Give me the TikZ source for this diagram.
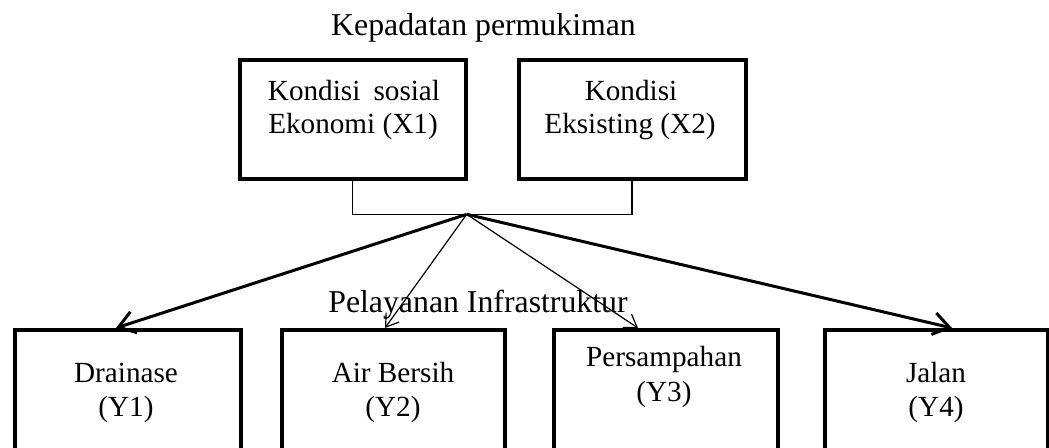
\documentclass[tikz,border=0pt]{standalone}
\usepackage{fontspec}
\setmainfont{Liberation Serif}
\usetikzlibrary{arrows.meta}
\begin{document}
\begin{tikzpicture}[x=0.5pt,y=-0.5pt,
  frame/.style={draw, line width=2pt, inner sep=0pt},
  lbl/.style={anchor=base, inner sep=0pt, font=\fontsize{15.9pt}{18pt}\selectfont},
  btxt/.style={anchor=base, inner sep=0pt, font=\fontsize{14.6pt}{16pt}\selectfont},
  thickarrow/.style={line width=1.5pt, -{Straight Barb[length=8pt,width=11pt]}},
  thinarrow/.style={line width=0.6pt, -{Straight Barb[length=6pt,width=8pt]}},
  link/.style={line width=0.6pt}]
\clip (0,0) rectangle (1049,448);
% top boxes
\node[frame, minimum width=112.75pt, minimum height=59.75pt] (x1) at (352.75,119.75) {};
\node[frame, minimum width=113.5pt, minimum height=59.75pt] (x2) at (632,119.75) {};
% bottom boxes
\node[frame, minimum width=112.9pt, minimum height=70pt] (y1) at (127.6,400) {};
\node[frame, minimum width=111.5pt, minimum height=70pt] (y2) at (393.5,400) {};
\node[frame, minimum width=112pt, minimum height=70pt] (y3) at (666,400) {};
\node[frame, minimum width=111.5pt, minimum height=70pt] (y4) at (936,400) {};
% labels
\node[lbl] (title) at (483.5,36) {Kepadatan permukiman};
\node[lbl] (infra) at (478,313) {Pelayanan Infrastruktur};
% box texts
\node[btxt] (x1a) at (354,101) {Kondisi\hspace{0.45em}sosial};
\node[btxt] (x1b) at (353,134) {Ekonomi (X1)};
\node[btxt] (x2a) at (631,101) {Kondisi};
\node[btxt] (x2b) at (630,134) {Eksisting (X2)};
\node[btxt] (y1a) at (126,383) {Drainase};
\node[btxt] (y1b) at (126,416) {(Y1)};
\node[btxt] (y2a) at (393,383) {Air Bersih};
\node[btxt] (y2b) at (393,416) {(Y2)};
\node[btxt] (y3a) at (664,367) {Persampahan};
\node[btxt] (y3b) at (664,401) {(Y3)};
\node[btxt] (y4a) at (936,383) {Jalan};
\node[btxt] (y4b) at (936,416) {(Y4)};
% connectors
\coordinate (hub) at (466.7,214.3);
\draw[link] (x1.south) |- (hub) -| (x2.south);
\draw[thickarrow] (hub) -- ([xshift=-5.8pt]y1.north);
\draw[thinarrow] (hub) -- ([xshift=-4.25pt]y2.north);
\draw[thinarrow] (hub) -- ([xshift=-14pt]y3.north);
\draw[thickarrow] (hub) -- ([xshift=8pt]y4.north);
\end{tikzpicture}
\end{document}
